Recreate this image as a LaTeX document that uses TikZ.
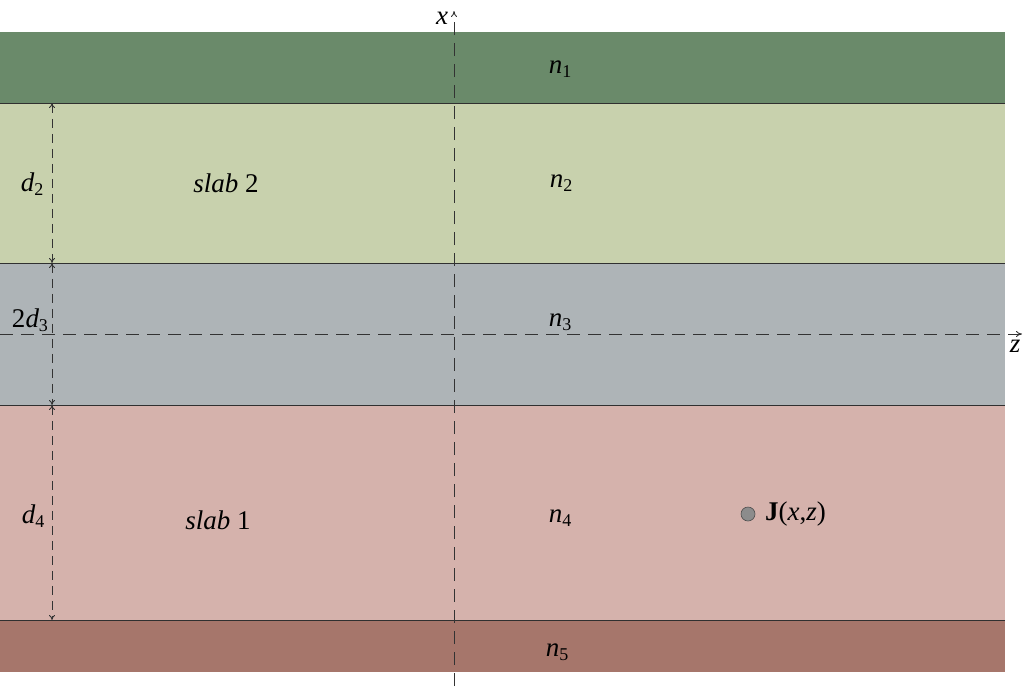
\documentclass[tikz,border=0pt]{standalone}
\usepackage{fontspec}
\setmainfont{Liberation Serif}
\usetikzlibrary{arrows.meta}
\definecolor{cone}{HTML}{6A8A6A}
\definecolor{ctwo}{HTML}{C8D1AD}
\definecolor{cthree}{HTML}{AEB4B7}
\definecolor{cfour}{HTML}{D5B2AC}
\definecolor{cfive}{HTML}{A6766B}
\definecolor{cline}{HTML}{303030}
\newcommand\lsub[1]{\raisebox{-0.35ex}{\upshape\fontsize{18}{18}\selectfont #1}}
\tikzset{
  band/.style={draw=none},
  sep/.style={draw=cline, line width=1pt},
  lbl/.style={font=\fontsize{27}{30}\selectfont, inner sep=0pt, anchor=center},
  axis/.style={draw=black!80, line width=0.9pt, dash pattern=on 13pt off 8pt, -{To[length=6pt,width=6pt]}},
  dim/.style={draw=black!80, line width=0.9pt, dash pattern=on 9pt off 6pt, {To[length=5pt,width=6pt]}-{To[length=5pt,width=6pt]}}
}
\begin{document}
\begin{tikzpicture}[x=1pt,y=-1pt]
\useasboundingbox (0,0) rectangle (1024,691);
\fill[cone]   (0,32)  rectangle (1005,103);
\fill[ctwo]   (0,103) rectangle (1005,263);
\fill[cthree] (0,263) rectangle (1005,405);
\fill[cfour]  (0,405) rectangle (1005,620);
\fill[cfive]  (0,620) rectangle (1005,672);
\draw[sep] (0,103) -- (1005,103);
\draw[sep] (0,263) -- (1005,263);
\draw[sep] (0,405) -- (1005,405);
\draw[sep] (0,620) -- (1005,620);

% axes
\coordinate (xb) at (454,686);
\coordinate (xt) at (454,11);
\coordinate (zl) at (0,334);
\coordinate (zr) at (1022,334);
\draw[axis] (xb) -- (xt);
\draw[axis] (zl) -- (zr);
\node[lbl] (xlab) at (442,18) {\itshape x};
\node[lbl] (zlab) at (1015,346) {\itshape z};

% dimension lines
\coordinate (d0) at (52,103);
\coordinate (d1) at (52,263);
\coordinate (d2) at (52,405);
\coordinate (d3) at (52,620);
\draw[dim] (d0) -- (d1);
\draw[dim] (d1) -- (d2);
\draw[dim] (d2) -- (d3);
\node[lbl] (ld2) at (32,184) {\itshape d\lsub{2}};
\node[lbl] (ld3) at (30,320) {2\itshape d\lsub{3}};
\node[lbl] (ld4) at (33,516) {\itshape d\lsub{4}};

% labels
\node[lbl] (n1) at (560,69) {\itshape n\lsub{1}};
\node[lbl] (n2) at (561,183) {\itshape n\lsub{2}};
\node[lbl] (n3) at (560,322) {\itshape n\lsub{3}};
\node[lbl] (n4) at (560,518) {\itshape n\lsub{4}};
\node[lbl] (n5) at (557,652) {\itshape n\lsub{5}};
\node[lbl] (s2) at (226,183) {\itshape slab \upshape 2};
\node[lbl] (s1) at (218,520) {\itshape slab \upshape 1};

% source
\node[circle, fill=black!45, draw=black!70, line width=0.6pt, minimum size=14pt, inner sep=0pt] (src) at (748,514) {};
\node[lbl, anchor=west] (J) at (765,514) {\textbf{J}(\itshape x\upshape ,\itshape z\upshape )};
\end{tikzpicture}
\end{document}
